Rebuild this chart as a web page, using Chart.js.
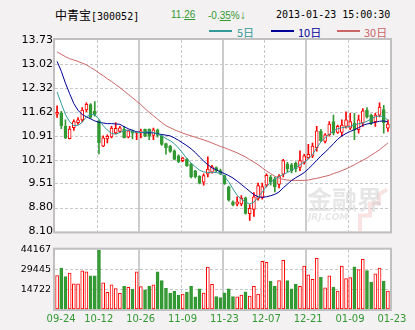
<!DOCTYPE html>
<html>
<head>
<meta charset="utf-8">
<script src="https://cdn.jsdelivr.net/npm/chart.js"></script>
<style>
body{margin:0;background:#f3f1f1;width:415px;height:330px;overflow:hidden;position:relative;font-family:"Noto Sans CJK SC",sans-serif}
.t{position:absolute;white-space:nowrap;line-height:14px}
.ln{position:absolute;height:2px}
#priceChart{position:absolute;left:0;top:0}
#volChart{position:absolute;left:0;top:240px}
</style>
</head>
<body>
<div class="t" style="left:55px;top:8px;font-size:12px;color:#000">中青宝<span style="font-family:'DejaVu Sans Mono';font-size:10px">[300052]</span></div>
<div class="t" style="left:171px;top:8px;font-family:'Liberation Sans';font-size:10px;color:#339933">11.<u>26</u></div>
<div class="t" style="left:208px;top:8px;font-family:'Liberation Sans';font-size:10px;color:#339933">-0.<u>35</u>%<span style="font-size:12px">↓</span></div>
<div class="t" style="left:276px;top:8px;font-family:'DejaVu Sans Mono';font-size:10px;color:#000">2013-01-23 15:00:30</div>

<div class="ln" style="left:209px;top:30px;width:23px;background:#339999"></div>
<div class="t" style="left:237px;top:25px;font-size:11px;color:#339999">5日</div>
<div class="ln" style="left:271px;top:30px;width:23px;background:#000099"></div>
<div class="t" style="left:298px;top:25px;font-size:11px;color:#000099">10日</div>
<div class="ln" style="left:337px;top:30px;width:23px;background:#cc6666"></div>
<div class="t" style="left:364px;top:25px;font-size:11px;color:#cc6666">30日</div>

<canvas id="priceChart" width="415" height="240"></canvas>
<canvas id="volChart" width="415" height="90"></canvas>

<script>
// trading days shown on the chart
const dates = ['09-24','09-25','09-26','09-27','09-28',
  '10-08','10-09','10-10','10-11','10-12','10-15','10-16','10-17','10-18','10-19',
  '10-22','10-23','10-24','10-25','10-26','10-29','10-30','10-31','11-01','11-02',
  '11-05','11-06','11-07','11-08','11-09','11-12','11-13','11-14','11-15','11-16',
  '11-19','11-20','11-21','11-22','11-23','11-26','11-27','11-28','11-29','11-30',
  '12-03','12-04','12-05','12-06','12-07','12-10','12-11','12-12','12-13','12-14',
  '12-17','12-18','12-19','12-20','12-21','12-24','12-25','12-26','12-27','12-28',
  '12-31','01-04','01-07','01-08','01-09','01-10','01-11',
  '01-14','01-15','01-16','01-17','01-18','01-21','01-22','01-23'];

const open = [11.55,11.57,11.20,10.83,11.15,11.30,11.38,11.67,11.83,11.63,
  11.33,10.61,10.82,10.88,11.00,11.04,11.11,10.87,11.04,10.99,
  11.01,11.11,11.10,10.92,11.09,10.90,10.68,10.60,10.47,10.32,
  10.18,10.23,10.08,9.88,9.72,9.55,9.78,9.84,9.98,9.89,
  9.74,9.41,8.97,8.90,8.91,9.09,8.62,8.75,9.07,9.10,
  9.46,9.70,9.64,9.48,9.78,10.08,10.06,10.10,9.98,10.13,
  10.27,10.32,10.56,11.04,10.75,10.94,11.33,11.01,11.01,11.19,
  11.14,11.28,11.09,11.28,11.66,11.52,11.33,11.52,11.68,11.14];
const high = [11.79,11.63,11.38,11.19,11.38,11.45,11.74,11.88,11.86,11.92,
  11.38,10.91,10.94,11.19,11.30,11.19,11.19,11.08,11.09,11.03,
  11.11,11.11,11.12,11.14,11.11,10.94,10.70,10.63,10.50,10.35,
  10.28,10.25,10.10,9.90,9.74,9.79,10.29,10.04,10.00,9.93,
  9.76,9.43,9.00,9.12,9.15,9.11,8.89,9.24,9.52,9.52,
  9.79,9.75,9.70,9.77,10.22,10.13,10.10,10.15,10.47,10.37,
  10.66,10.70,11.19,11.10,10.98,11.33,11.52,11.23,11.38,11.62,
  11.57,11.57,11.52,11.71,11.74,11.55,11.57,11.88,11.81,11.38];
const low = [11.45,11.12,10.83,10.82,11.07,11.25,11.32,11.62,11.42,11.49,
  10.38,10.59,10.70,10.85,10.97,11.01,10.85,10.85,10.82,10.80,
  10.85,10.89,10.80,10.80,10.87,10.63,10.37,10.42,10.20,10.12,
  10.15,10.01,9.67,9.67,9.50,9.46,9.70,9.81,9.85,9.77,
  9.48,8.99,8.85,8.85,8.86,8.61,8.42,8.54,9.02,9.05,
  9.41,9.46,9.26,9.38,9.70,9.86,9.82,9.85,9.89,10.08,
  10.23,10.27,10.46,10.75,10.70,10.90,10.94,10.98,10.90,11.14,
  11.09,10.80,10.99,11.19,11.43,11.24,11.19,11.47,10.99,11.04];
const close = [11.60,11.20,10.85,11.11,11.33,11.38,11.67,11.84,11.45,11.54,
  10.70,10.85,10.90,11.14,11.13,11.15,10.85,11.06,10.99,11.02,
  11.05,10.90,10.90,11.09,10.92,10.66,10.56,10.45,10.22,10.15,
  10.26,10.03,9.70,9.70,9.52,9.74,9.93,10.00,9.89,9.79,
  9.50,9.02,8.88,8.97,9.07,8.63,8.78,9.12,9.45,9.42,
  9.75,9.55,9.41,9.72,10.18,9.93,9.88,9.94,10.18,10.32,
  10.37,10.61,11.06,10.76,10.94,11.26,10.99,11.19,11.23,11.38,
  11.33,11.09,11.38,11.65,11.47,11.28,11.52,11.76,11.30,11.26];

// moving averages
const ma5 = [12.20,11.86,11.54,11.32,11.21,11.22,11.31,11.47,11.54,11.53,
  11.40,11.21,11.08,10.98,10.96,11.01,11.06,11.08,11.04,11.01,
  11.01,11.02,11.04,11.01,10.96,10.91,10.83,10.77,10.68,10.55,
  10.40,10.24,10.11,10.00,9.90,9.85,9.83,9.84,9.83,9.81,
  9.71,9.55,9.35,9.16,9.05,8.96,8.91,8.96,9.10,9.26,
  9.42,9.55,9.64,9.71,9.78,9.83,9.90,9.97,10.06,10.14,
  10.23,10.36,10.56,10.73,10.86,10.96,11.06,11.12,11.15,11.17,
  11.19,11.23,11.27,11.29,11.34,11.41,11.47,11.50,11.47,11.37];
const ma10 = [13.10,12.81,12.46,12.15,11.86,11.66,11.54,11.47,11.41,11.35,
  11.31,11.29,11.27,11.27,11.26,11.25,11.18,11.12,11.07,11.03,
  11.01,11.00,11.00,11.00,10.97,10.95,10.93,10.91,10.85,10.78,
  10.70,10.62,10.53,10.42,10.29,10.17,10.06,9.97,9.91,9.85,
  9.80,9.74,9.67,9.58,9.48,9.38,9.28,9.18,9.12,9.10,
  9.12,9.15,9.19,9.26,9.38,9.49,9.60,9.68,9.75,9.83,
  9.94,10.06,10.19,10.32,10.43,10.55,10.68,10.81,10.91,10.98,
  11.04,11.09,11.15,11.22,11.26,11.28,11.31,11.34,11.35,11.32];
const ma30 = [13.38,13.31,13.24,13.18,13.14,13.10,13.05,13.00,12.92,12.85,
  12.76,12.68,12.59,12.51,12.42,12.33,12.23,12.13,12.03,11.93,
  11.83,11.71,11.60,11.50,11.40,11.30,11.21,11.15,11.09,11.04,
  10.99,10.95,10.91,10.87,10.83,10.79,10.75,10.70,10.65,10.60,
  10.56,10.51,10.46,10.41,10.35,10.29,10.21,10.14,10.06,9.97,
  9.88,9.80,9.72,9.67,9.63,9.61,9.60,9.60,9.60,9.60,
  9.61,9.64,9.66,9.69,9.72,9.75,9.80,9.84,9.89,9.94,
  10.00,10.06,10.13,10.19,10.26,10.34,10.42,10.50,10.60,10.70];

const volume = [24800,30500,24060,26690,18790,18790,28370,27650,24780,24780,
  44167,19510,12330,18080,15200,11610,16880,16160,14720,27650,
  16640,14250,16880,18080,27650,21190,15440,11850,13290,10410,
  11130,12570,16880,8980,14960,11850,31240,18310,9220,8500,
  12090,14960,9220,8980,10410,12810,9700,16880,11130,35550,
  34830,20710,17120,21190,36270,21190,14960,18550,16880,31960,
  25500,22150,37710,23580,15680,24780,16400,13290,31960,22620,
  23340,31480,29330,36990,28610,19990,26220,30520,20710,13290];

const priceTicks = [8.10,8.80,9.51,10.21,10.91,11.62,12.32,13.02,13.73];
const volTicks = [0,14722,29445,44167];
const tickLabels = ['09-24','10-12','10-26','11-09','11-23','12-07','12-21','01-09','01-23'];

const RED = '#ff0000', GREEN = '#339933';
const isUp = close.map((c, i) => c >= open[i]);

// white plot area + grid: dashed rows, every 10 bars a column (alternating dashed / solid)
const plotGrid = {
  id: 'plotGrid',
  beforeDatasetsDraw(chart) {
    const {ctx, chartArea: a, scales} = chart;
    ctx.save();
    ctx.lineWidth = 1;
    ctx.strokeStyle = '#c8c8c8';
    ctx.setLineDash([3, 2]);
    scales.y.ticks.forEach(t => {
      if (t.value <= scales.y.min || t.value >= scales.y.max) return;
      const y = Math.round(scales.y.getPixelForValue(t.value)) + 0.5;
      ctx.beginPath(); ctx.moveTo(a.left, y); ctx.lineTo(a.right, y); ctx.stroke();
    });
    for (let k = 10; k < dates.length; k += 10) {
      const x = Math.round(scales.x.getPixelForValue(k - 0.5));
      ctx.beginPath();
      if ((k / 10) % 2 == 1) {
        ctx.setLineDash([3, 2]); ctx.lineWidth = 1; ctx.strokeStyle = '#c8c8c8';
        ctx.moveTo(x + 0.5, a.top); ctx.lineTo(x + 0.5, a.bottom);
      } else {
        ctx.setLineDash([]); ctx.lineWidth = 2; ctx.strokeStyle = '#cccccc';
        ctx.moveTo(x, a.top); ctx.lineTo(x, a.bottom);
      }
      ctx.stroke();
    }
    ctx.restore();
  },
  beforeDraw(chart) {
    const {ctx, chartArea: a} = chart;
    ctx.save();
    ctx.fillStyle = '#ffffff';
    ctx.fillRect(a.left, a.top, a.right - a.left, a.bottom - a.top);
    ctx.restore();
  },
  afterDraw(chart) {
    const {ctx, chartArea: a} = chart;
    ctx.save();
    ctx.strokeStyle = '#c0c0c0';
    ctx.lineWidth = 2;
    ctx.strokeRect(a.left - 1, a.top - 1, a.right - a.left + 2, a.bottom - a.top + 2);
    ctx.restore();
  }
};

// faint site logo in the lower right corner
const logo = {
  id: 'logo',
  beforeDatasetsDraw(chart) {
    const {ctx, chartArea: a} = chart;
    ctx.save();
    ctx.strokeStyle = 'rgba(240,190,190,0.45)';
    ctx.lineWidth = 4;
    ctx.beginPath();
    ctx.moveTo(a.right - 30, a.bottom);
    ctx.lineTo(a.right - 30, a.bottom - 16);
    ctx.lineTo(a.right - 20, a.bottom - 16);
    ctx.lineTo(a.right - 20, a.bottom - 28);
    ctx.lineTo(a.right - 11, a.bottom - 28);
    ctx.lineTo(a.right - 11, a.bottom - 37);
    ctx.lineTo(a.right - 3, a.bottom - 42);
    ctx.stroke();
    ctx.fillStyle = 'rgba(200,200,200,0.45)';
    ctx.font = 'bold 25px "Noto Sans CJK SC"';
    ctx.textBaseline = 'alphabetic';
    ctx.fillText('金融界', a.right - 83, a.bottom - 22);
    ctx.font = 'bold italic 9px "DejaVu Sans"';
    ctx.fillText('JRJ.COM', a.right - 82, a.bottom - 11);
    ctx.restore();
  }
};

new Chart(document.getElementById('priceChart'), {
  type: 'bar',
  data: {
    labels: dates,
    datasets: [
      {type: 'line', data: ma5, borderColor: '#339999', borderWidth: 1, pointRadius: 0, order: 0},
      {type: 'line', data: ma10, borderColor: '#000099', borderWidth: 1, pointRadius: 0, order: 0},
      {type: 'line', data: ma30, borderColor: '#cc6666', borderWidth: 1, pointRadius: 0, order: 0},
      {
        // candle bodies
        data: open.map((o, i) => [Math.min(o, close[i]), Math.max(o, close[i])]),
        backgroundColor: isUp.map(u => u ? '#ffffff' : GREEN),
        borderColor: isUp.map(u => u ? RED : GREEN),
        borderWidth: 1, borderSkipped: false, barThickness: 3, grouped: false, order: 1
      },
      {
        // high-low wicks
        data: high.map((h, i) => [low[i], h]),
        backgroundColor: isUp.map(u => u ? RED : GREEN),
        barThickness: 1, grouped: false, order: 2
      }
    ]
  },
  options: {
    responsive: false,
    animation: false,
    layout: {padding: {top: 40, right: 25, bottom: 5, left: 0}},
    plugins: {legend: {display: false}, tooltip: {enabled: false}},
    scales: {
      x: {display: false},
      y: {
        min: 8.10, max: 13.73,
        afterFit: s => { s.width = 55; },
        afterBuildTicks: s => { s.ticks = priceTicks.map(v => ({value: v})); },
        grid: {display: false, drawTicks: false},
        border: {display: false},
        ticks: {
          padding: 2, color: '#000',
          font: {family: 'DejaVu Sans', size: 11},
          callback: v => Number(v).toFixed(2)
        }
      }
    }
  },
  plugins: [plotGrid, logo]
});

new Chart(document.getElementById('volChart'), {
  type: 'bar',
  data: {
    labels: dates,
    datasets: [{
      data: volume,
      backgroundColor: isUp.map(u => u ? '#ffffff' : GREEN),
      borderColor: isUp.map(u => u ? RED : GREEN),
      borderWidth: 1, borderSkipped: false, barThickness: 3
    }]
  },
  options: {
    responsive: false,
    animation: false,
    layout: {padding: {top: 8, right: 25, bottom: 0, left: 0}},
    plugins: {legend: {display: false}, tooltip: {enabled: false}},
    scales: {
      x: {
        afterFit: s => { s.height = 21; },
        grid: {display: false, drawTicks: false},
        border: {display: false},
        ticks: {
          autoSkip: false, maxRotation: 0, padding: 4, labelOffset: 4,
          color: GREEN, font: {family: 'DejaVu Sans', size: 10},
          callback: (v, i) => tickLabels.includes(dates[i]) ? dates[i] : ''
        }
      },
      y: {
        min: 0, max: 44167,
        afterFit: s => { s.width = 55; },
        afterBuildTicks: s => { s.ticks = volTicks.map(v => ({value: v})); },
        grid: {display: false, drawTicks: false},
        border: {display: false},
        ticks: {
          padding: 4, color: '#000',
          font: {family: 'DejaVu Sans', size: 9.5},
          callback: v => v == 0 ? '' : v
        }
      }
    }
  },
  plugins: [plotGrid]
});
</script>
</body>
</html>
